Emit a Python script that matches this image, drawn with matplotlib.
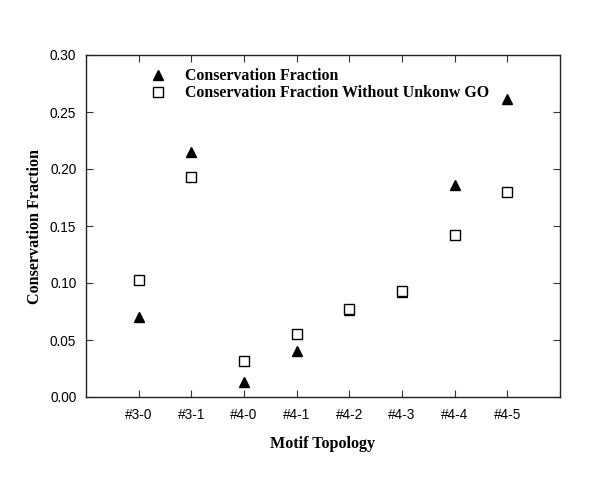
import matplotlib
matplotlib.use("Agg")
import matplotlib.pyplot as plt

categories = ["#3-0", "#3-1", "#4-0", "#4-1", "#4-2", "#4-3", "#4-4", "#4-5"]
conservation = [0.070, 0.215, 0.013, 0.040, 0.076, 0.092, 0.186, 0.261]
conservation_no_unknown = [0.103, 0.193, 0.032, 0.055, 0.077, 0.093, 0.142, 0.180]
yticks = [0.00, 0.05, 0.10, 0.15, 0.20, 0.25, 0.30]

fig = plt.figure(figsize=(6, 4.92), dpi=100)
ax = fig.add_axes([86/600, 1-397/492, (560-86)/600, (397-55)/492])

x = list(range(len(categories)))
ax.plot(x, conservation, linestyle="none", marker="^", color="black",
        markersize=7.5, label="Conservation Fraction", zorder=3)
ax.plot(x, conservation_no_unknown, linestyle="none", marker="s", markerfacecolor="white",
        markeredgecolor="black", markeredgewidth=1.0, markersize=6.5,
        label="Conservation Fraction Without Unkonw GO", zorder=4)

ax.set_xlim(-1, 8)
ax.set_ylim(0, 0.30)
ax.set_xticks(x)
ax.set_xticklabels(categories, fontfamily="Liberation Sans", fontsize=9.8)
ax.set_yticks(yticks)
ax.set_yticklabels([f"{v:.2f}" for v in yticks], fontfamily="Liberation Sans", fontsize=9.8)
ax.tick_params(direction="in", length=5, width=0.8, top=True, right=True, pad=7, colors="#333333",
               labelcolor="black")
ax.tick_params(axis="x", pad=8)
for s in ax.spines.values():
    s.set_linewidth(1.0)
    s.set_color("#222222")

ax.set_xlabel("Motif Topology", fontfamily="Liberation Serif", fontweight="bold", fontsize=11.6, labelpad=10)
ax.set_ylabel("Conservation Fraction", fontfamily="Liberation Serif", fontweight="bold", fontsize=11.6, labelpad=5)

leg = ax.legend(loc="upper left", bbox_to_anchor=(0.106, 1.003), frameon=False,
                prop={"family": "Liberation Serif", "weight": "bold", "size": 11.4},
                handlelength=1.0, handletextpad=1.2, labelspacing=0.08)

fig.savefig("out.png", dpi=100)
